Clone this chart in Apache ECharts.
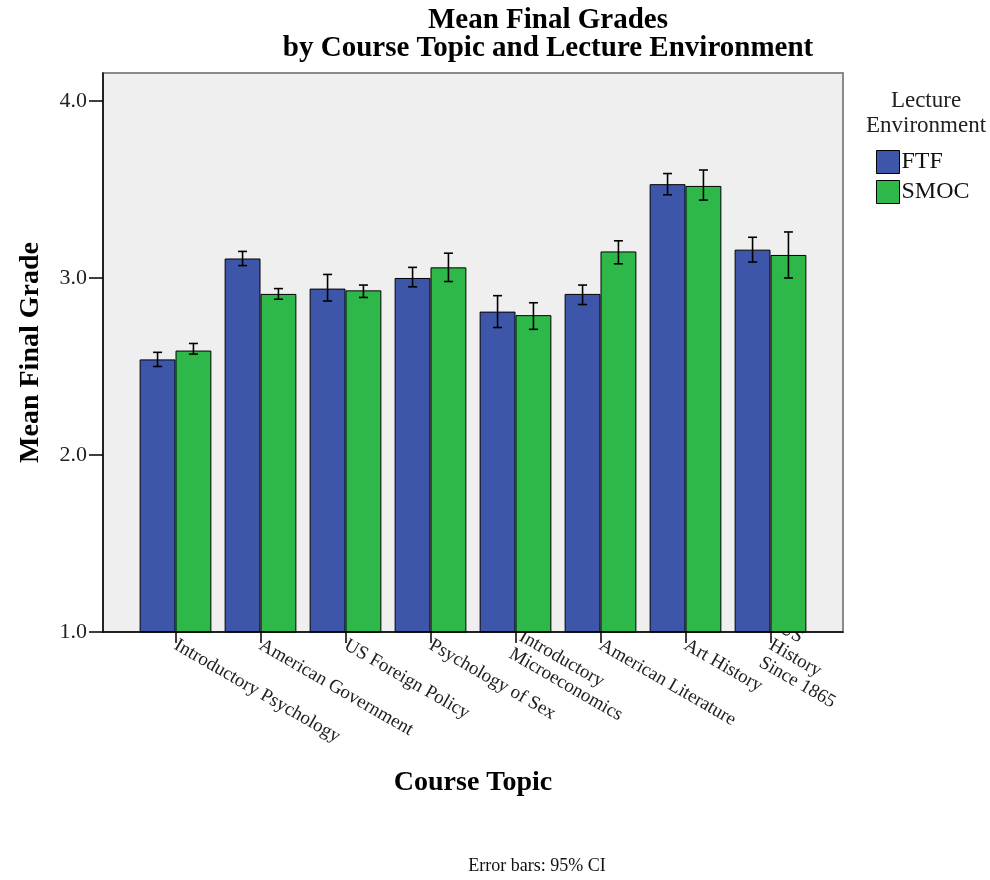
<!DOCTYPE html>
<html>
<head>
<meta charset="utf-8">
<script src="https://cdn.jsdelivr.net/npm/echarts@6/dist/echarts.min.js"></script>
<style>html,body{margin:0;padding:0;background:#fff;}#c{width:990px;height:880px;}</style>
</head>
<body>
<div id="c"></div>
<script>
const categories = ['Introductory Psychology','American Government','US Foreign Policy','Psychology of Sex','Introductory\nMicroeconomics','American Literature','Art History','US\nHistory\nSince 1865'];
const ftfMean  = [2.54, 3.11, 2.94, 3.00, 2.81, 2.91, 3.53, 3.16];
const ftfLow   = [2.50, 3.07, 2.87, 2.95, 2.72, 2.85, 3.47, 3.09];
const ftfHigh  = [2.58, 3.15, 3.02, 3.06, 2.90, 2.96, 3.59, 3.23];
const smocMean = [2.59, 2.91, 2.93, 3.06, 2.79, 3.15, 3.52, 3.13];
const smocLow  = [2.57, 2.88, 2.89, 2.98, 2.71, 3.08, 3.44, 3.00];
const smocHigh = [2.63, 2.94, 2.96, 3.14, 2.86, 3.21, 3.61, 3.26];
const yTicks = [1, 2, 3, 4];

const FONT = '"Liberation Serif", "DejaVu Serif", serif';
const BLUE = '#3d56aa';
const GREEN = '#2fb84a';
const CAT_GAP = 0.156;
const Y_MIN = 1, Y_MAX = 4.158;

const chart = echarts.init(document.getElementById('c'), null, {renderer: 'canvas'});

function errItems(low, high) {
  return categories.map((c, i) => [i, low[i], high[i]]);
}
function makeErr(idx, low, high) {
  return {
    type: 'custom', xAxisIndex: 0, yAxisIndex: 0, z: 5,
    data: errItems(low, high),
    renderItem: function (params, api) {
      const cat = api.value(0);
      const lo = api.coord([cat, api.value(1)]);
      const hi = api.coord([cat, api.value(2)]);
      const bw = api.size([1, 0])[0] * (1 - CAT_GAP) / 2;
      const xc = lo[0] + (idx === 0 ? -bw / 2 : bw / 2);
      const cw = 4.5;
      const st = {stroke: '#000', lineWidth: 1.6};
      return {type: 'group', children: [
        {type: 'line', shape: {x1: xc, y1: lo[1], x2: xc, y2: hi[1]}, style: st},
        {type: 'line', shape: {x1: xc - cw, y1: lo[1], x2: xc + cw, y2: lo[1]}, style: st},
        {type: 'line', shape: {x1: xc - cw, y1: hi[1], x2: xc + cw, y2: hi[1]}, style: st}
      ]};
    }
  };
}

const option = {
  animation: false,
  backgroundColor: '#fff',
  title: [
    {text: 'Mean Final Grades\nby Course Topic and Lecture Environment', left: 543, top: 2, textAlign: 'center',
     textStyle: {fontFamily: FONT, fontWeight: 'bold', fontSize: 29, lineHeight: 28, color: '#000'}},
    {text: 'Lecture\nEnvironment', left: 921, top: 83, textAlign: 'center',
     textStyle: {fontFamily: FONT, fontWeight: 'normal', fontSize: 23, lineHeight: 25, color: '#222'}},
    {text: 'Error bars: 95% CI', left: 532, top: 852, textAlign: 'center',
     textStyle: {fontFamily: FONT, fontWeight: 'normal', fontSize: 18, color: '#111'}}
  ],
  legend: {
    orient: 'vertical', left: 871, top: 145, itemWidth: 23, itemHeight: 23, itemGap: 6,
    icon: 'rect',
    textStyle: {fontFamily: FONT, fontSize: 24, color: '#111', padding: [0, 0, 0, -3]},
    data: [{name: 'FTF', itemStyle: {color: BLUE, borderColor: '#000', borderWidth: 1}},
           {name: 'SMOC', itemStyle: {color: GREEN, borderColor: '#000', borderWidth: 1}}]
  },
  grid: [
    {left: 133, width: 680, top: 73, height: 559, containLabel: false},
    {left: 103, width: 740, top: 73, height: 559, show: true, backgroundColor: '#efefef', borderColor: '#8a8a8a', borderWidth: 2, z: 0}
  ],
  xAxis: [
    {type: 'category', gridIndex: 0, data: categories, boundaryGap: true,
     axisLine: {show: false},
     axisTick: {show: true, alignWithLabel: true, length: 11, lineStyle: {color: '#000', width: 1.5}},
     axisLabel: {rotate: -30, margin: 12, interval: 0, fontFamily: FONT, fontSize: 19, color: '#222', lineHeight: 20},
     name: 'Course Topic', nameLocation: 'middle', nameGap: 137,
     nameTextStyle: {fontFamily: FONT, fontWeight: 'bold', fontSize: 28, color: '#000'}},
    {type: 'value', gridIndex: 1, min: 0, max: 1, z: 6,
     axisLine: {show: true, lineStyle: {color: '#000', width: 1.5}},
     axisTick: {show: false}, axisLabel: {show: false}, splitLine: {show: false}}
  ],
  yAxis: [
    {type: 'value', gridIndex: 0, min: Y_MIN, max: Y_MAX, show: false, splitLine: {show: false}},
    {type: 'value', gridIndex: 1, min: Y_MIN, max: Y_MAX, z: 6,
     axisLine: {show: true, lineStyle: {color: '#000', width: 1.5}},
     axisTick: {show: true, length: 14, lineStyle: {color: '#000', width: 1.5}, customValues: yTicks},
     axisLabel: {margin: 16, fontFamily: FONT, fontSize: 22, color: '#222', customValues: yTicks,
                 formatter: v => v.toFixed(1)},
     splitLine: {show: false},
     name: 'Mean Final Grade', nameLocation: 'middle', nameGap: 58,
     nameTextStyle: {fontFamily: FONT, fontWeight: 'bold', fontSize: 28, color: '#000'}}
  ],
  series: [
    {name: 'FTF', type: 'bar', xAxisIndex: 0, yAxisIndex: 0, data: ftfMean, barGap: '0%', barCategoryGap: (CAT_GAP * 100) + '%',
     itemStyle: {color: BLUE, borderColor: '#000', borderWidth: 1}, clip: true},
    {name: 'SMOC', type: 'bar', xAxisIndex: 0, yAxisIndex: 0, data: smocMean, barGap: '0%', barCategoryGap: (CAT_GAP * 100) + '%',
     itemStyle: {color: GREEN, borderColor: '#000', borderWidth: 1}, clip: true},
    makeErr(0, ftfLow, ftfHigh),
    makeErr(1, smocLow, smocHigh)
  ]
};
chart.setOption(option);
</script>
</body>
</html>
